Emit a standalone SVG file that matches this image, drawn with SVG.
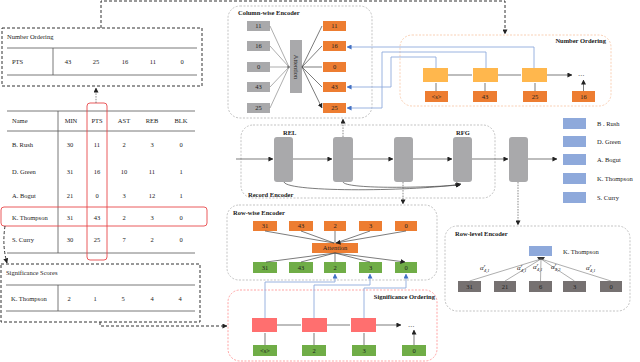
<svg xmlns="http://www.w3.org/2000/svg" width="640" height="362" viewBox="0 0 640 362">
<style>
text{font-family:"Liberation Serif","Times New Roman",serif;font-size:6.5px;fill:#222}
.c{text-anchor:middle}
.b{font-weight:bold;font-size:6.5px}
.tl{stroke:#555;stroke-width:0.8}
.blk{fill:none;stroke:#333;stroke-width:1;stroke-dasharray:3,2}
.gbox{fill:none;stroke:#aaa;stroke-width:0.7;stroke-dasharray:2,1.5}
.gray{fill:#A9A9AB}
.or{fill:#ED7D31}
.gr{fill:#70AD47}
.yl{fill:#FFB74D}
.rd{fill:#FF6F6F}
.bl{fill:#8EA9DB}
.dk{fill:#767171}
.ln{stroke:#777;stroke-width:0.6;fill:none}
.ar{stroke:#444;stroke-width:0.7;fill:none;marker-end:url(#ah)}
.bln{stroke:#8FAADC;stroke-width:0.9;fill:none}
.dash{stroke:#333;stroke-width:1;fill:none;stroke-dasharray:3,2;marker-end:url(#ah)}
.gdash{stroke:#555;stroke-width:0.7;fill:none;stroke-dasharray:1.5,1.2;marker-end:url(#ah)}
.al{font-size:7px;font-style:italic}
.sup{font-size:4.5px}
</style>
<defs>
<marker id="ah" viewBox="0 0 6 6" refX="5.5" refY="3" markerWidth="5" markerHeight="5" orient="auto" markerUnits="userSpaceOnUse"><path d="M0,0 L6,3 L0,6 z" fill="#222"/></marker>
<marker id="bah" viewBox="0 0 6 6" refX="5.5" refY="3" markerWidth="5" markerHeight="5" orient="auto" markerUnits="userSpaceOnUse"><path d="M0,0 L6,3 L0,6 z" fill="#4472C4"/></marker>
</defs>

<!-- Left: Number Ordering table -->
<g id="number-ordering-table">
<rect class="blk" x="2" y="28" width="200" height="58"/>
<text x="7" y="39">Number Ordering</text>
<line class="tl" x1="7" y1="48" x2="197" y2="48"/>
<line class="tl" x1="7" y1="75" x2="197" y2="75"/>
<line class="tl" x1="53" y1="48" x2="53" y2="75"/>
<text x="12" y="64">PTS</text>
<text class="c" x="68" y="64">43</text><text class="c" x="96" y="64">25</text><text class="c" x="125" y="64">16</text><text class="c" x="153" y="64">11</text><text class="c" x="182" y="64">0</text>
</g>

<!-- Main table -->
<g id="main-table">
<line class="tl" x1="7" y1="111" x2="195" y2="111"/>
<line class="tl" x1="7" y1="131" x2="195" y2="131"/>
<line class="tl" x1="7" y1="253" x2="195" y2="253"/>
<line class="tl" x1="58" y1="111" x2="58" y2="253"/>
<text x="12" y="123">Name</text>
<text class="c" x="71" y="123">MIN</text><text class="c" x="97" y="123">PTS</text><text class="c" x="124" y="123">AST</text><text class="c" x="152" y="123">REB</text><text class="c" x="181" y="123">BLK</text>
<text x="12" y="147">B. Rush</text>
<text class="c" x="70" y="147">30</text><text class="c" x="97" y="147">11</text><text class="c" x="124" y="147">2</text><text class="c" x="152" y="147">3</text><text class="c" x="181" y="147">0</text>
<text x="12" y="174">D. Green</text>
<text class="c" x="70" y="174">31</text><text class="c" x="97" y="174">16</text><text class="c" x="124" y="174">10</text><text class="c" x="152" y="174">11</text><text class="c" x="181" y="174">1</text>
<text x="12" y="198">A. Bogut</text>
<text class="c" x="70" y="198">21</text><text class="c" x="97" y="198">0</text><text class="c" x="124" y="198">3</text><text class="c" x="152" y="198">12</text><text class="c" x="181" y="198">1</text>
<text x="12" y="220">K. Thompson</text>
<text class="c" x="70" y="220">31</text><text class="c" x="97" y="220">43</text><text class="c" x="124" y="220">2</text><text class="c" x="152" y="220">3</text><text class="c" x="181" y="220">0</text>
<text x="12" y="242">S. Curry</text>
<text class="c" x="70" y="242">30</text><text class="c" x="97" y="242">25</text><text class="c" x="124" y="242">7</text><text class="c" x="152" y="242">2</text><text class="c" x="181" y="242">0</text>
<rect x="87" y="103" width="20" height="157" rx="3" fill="none" stroke="#E8474A" stroke-width="0.9"/>
<rect x="1" y="207" width="206" height="19" rx="3" fill="none" stroke="#E8474A" stroke-width="0.9"/>
</g>

<!-- Significance Scores -->
<g id="significance-scores">
<rect class="blk" x="1" y="264" width="199" height="58"/>
<text x="6" y="275">Significance Scores</text>
<line class="tl" x1="6" y1="285" x2="195" y2="285"/>
<line class="tl" x1="6" y1="311" x2="195" y2="311"/>
<line class="tl" x1="58" y1="285" x2="58" y2="311"/>
<text x="11" y="301">K. Thompson</text>
<text class="c" x="69" y="301">2</text><text class="c" x="95" y="301">1</text><text class="c" x="123" y="301">5</text><text class="c" x="152" y="301">4</text><text class="c" x="180" y="301">4</text>
</g>

<!-- Column-wise Encoder -->
<g id="column-wise-encoder">
<rect class="gbox" x="228" y="6" width="144" height="112" rx="12"/>
<text class="b" x="238" y="15">Column-wise Encoder</text>
<rect class="gray" x="247" y="21" width="23" height="10"/><text class="c" x="258.5" y="28">11</text>
<rect class="gray" x="247" y="41" width="23" height="10"/><text class="c" x="258.5" y="48">16</text>
<rect class="gray" x="247" y="62" width="23" height="10"/><text class="c" x="258.5" y="69">0</text>
<rect class="gray" x="247" y="82" width="23" height="10"/><text class="c" x="258.5" y="89">43</text>
<rect class="gray" x="247" y="103" width="23" height="10"/><text class="c" x="258.5" y="110">25</text>
<rect class="gray" x="290" y="40" width="12" height="53"/>
<text class="c" transform="translate(296,67) rotate(90)" x="0" y="2">Attention</text>
<rect class="or" x="323" y="21" width="23" height="10"/><text class="c" x="334.5" y="28">11</text>
<rect class="or" x="323" y="41" width="23" height="10"/><text class="c" x="334.5" y="48">16</text>
<rect class="or" x="323" y="62" width="23" height="10"/><text class="c" x="334.5" y="69">0</text>
<rect class="or" x="323" y="82" width="23" height="10"/><text class="c" x="334.5" y="89">43</text>
<rect class="or" x="323" y="103" width="23" height="10"/><text class="c" x="334.5" y="110">25</text>
<path class="ln" d="M270,26 L289,67 M270,46 L289,67 M270,67 L289,67 M270,87 L289,67 M270,108 L289,67"/>
<circle cx="288.5" cy="67" r="1.3" fill="#777"/>
<path class="ar" d="M302,67 L322,26 M302,67 L322,46 M302,67 L322,67 M302,67 L322,87 M302,67 L322,108"/>
</g>

<!-- Number Ordering (pointer) -->
<g id="number-ordering">
<rect x="400" y="35" width="211" height="71" rx="12" fill="none" stroke="#F8CBAD" stroke-width="0.9" stroke-dasharray="2,1.5"/>
<text class="b" x="606" y="43" text-anchor="end">Number Ordering</text>
<rect class="yl" x="423" y="68" width="25" height="14"/>
<rect class="yl" x="473" y="68" width="25" height="14"/>
<rect class="yl" x="522" y="68" width="25" height="14"/>
<text x="578" y="76">…</text>
<rect class="or" x="425" y="91" width="23" height="11"/><text class="c" x="436.5" y="98.5">&lt;s&gt;</text>
<rect class="or" x="473" y="91" width="24" height="11"/><text class="c" x="485" y="98.5">43</text>
<rect class="or" x="523" y="91" width="24" height="11"/><text class="c" x="535" y="98.5">25</text>
<rect class="or" x="572" y="91" width="23" height="11"/><text class="c" x="583.5" y="98.5">16</text>
<path class="ar" d="M448,75 L472,75 M498,75 L521,75 M547,75 L572,75"/>
<path class="ar" d="M436,91 L436,83 M485,91 L485,83 M535,91 L535,83 M583.5,91 L583.5,80"/>
</g>

<!-- Record Encoder -->
<g id="record-encoder">
<rect class="gbox" x="241" y="125" width="254" height="73" rx="12"/>
<text class="b" x="248" y="197">Record Encoder</text>
<text class="b" x="283" y="135">REL</text>
<text class="b" x="456" y="135">RFG</text>
<rect class="gray" x="274" y="137" width="19" height="45" rx="3"/>
<rect class="gray" x="333" y="137" width="20" height="45" rx="3"/>
<rect class="gray" x="394" y="137" width="19" height="45" rx="3"/>
<rect class="gray" x="453" y="137" width="19" height="45" rx="3"/>
</g>
<g id="record-cell-5">
<rect class="gray" x="509" y="137" width="19" height="45" rx="3"/>
</g>

<!-- Output list -->
<g id="output-list">
<rect class="bl" x="563" y="118" width="23" height="11"/><text x="597" y="126">B . Rush</text>
<rect class="bl" x="563" y="136" width="23" height="11"/><text x="597" y="144">D. Green</text>
<rect class="bl" x="563" y="154" width="23" height="11"/><text x="597" y="162">A. Bogut</text>
<rect class="bl" x="563" y="173" width="23" height="11"/><text x="597" y="181">K. Thompson</text>
<rect class="bl" x="563" y="192" width="23" height="11"/><text x="597" y="200">S. Curry</text>
</g>

<!-- Row-wise Encoder -->
<g id="row-wise-encoder">
<rect class="gbox" x="227" y="205" width="210" height="75" rx="12"/>
<text class="b" x="233" y="215">Row-wise Encoder</text>
<rect class="or" x="253" y="221" width="24" height="10"/><text class="c" x="265" y="228">31</text>
<rect class="or" x="289" y="221" width="24" height="10"/><text class="c" x="301" y="228">43</text>
<rect class="or" x="324" y="221" width="22" height="10"/><text class="c" x="335" y="228">2</text>
<rect class="or" x="359" y="221" width="23" height="10"/><text class="c" x="370.5" y="228">3</text>
<rect class="or" x="395" y="221" width="22" height="10"/><text class="c" x="406" y="228">0</text>
<rect class="or" x="312" y="243" width="46" height="10"/><text class="c" x="335" y="250.3">Attention</text>
<rect class="gr" x="253" y="262" width="24" height="11"/><text class="c" x="265" y="269.5">31</text>
<rect class="gr" x="289" y="262" width="24" height="11"/><text class="c" x="301" y="269.5">43</text>
<rect class="gr" x="324" y="262" width="22" height="11"/><text class="c" x="335" y="269.5">2</text>
<rect class="gr" x="359" y="262" width="23" height="11"/><text class="c" x="370.5" y="269.5">3</text>
<rect class="gr" x="395" y="262" width="22" height="11"/><text class="c" x="406" y="269.5">0</text>
<path class="ar" d="M265,231 L334,243 M301,231 L334,243 M335,231 L335,243 M370,231 L336,243 M406,231 L336,243"/>
<path class="ar" d="M335,253 L266,262 M335,253 L301,262 M335,253 L335,262 M335,253 L370,262 M335,253 L405,262"/>
</g>

<!-- Significance Ordering -->
<g id="significance-ordering">
<rect x="228" y="290" width="209" height="71" rx="12" fill="none" stroke="#FF9999" stroke-width="0.9" stroke-dasharray="2,1.5"/>
<text class="b" x="435" y="299" text-anchor="end">Significance Ordering</text>
<rect class="rd" x="252" y="318" width="25" height="14"/>
<rect class="rd" x="302" y="318" width="25" height="14"/>
<rect class="rd" x="351" y="318" width="25" height="14"/>
<text x="408" y="327">…</text>
<rect class="gr" x="253" y="345" width="24" height="11"/><text class="c" x="265" y="352.5">&lt;s&gt;</text>
<rect class="gr" x="302" y="345" width="24" height="11"/><text class="c" x="314" y="352.5">2</text>
<rect class="gr" x="352" y="345" width="24" height="11"/><text class="c" x="364" y="352.5">3</text>
<rect class="gr" x="402" y="345" width="24" height="11"/><text class="c" x="414" y="352.5">0</text>
<path class="ar" d="M277,325 L301,325 M327,325 L350,325 M376,325 L401,325"/>
<path class="ar" d="M265,345 L265,333 M314,345 L314,333 M364,345 L364,333 M414,345 L414,330"/>
</g>

<!-- Row-level Encoder -->
<g id="row-level-encoder">
<rect class="gbox" x="445" y="226" width="185" height="85" rx="12"/>
<text class="b" x="455" y="236">Row-level Encoder</text>
<rect class="bl" x="529" y="246" width="23" height="10"/>
<text x="563" y="254">K. Thompson</text>
<path d="M537,257 L545,257 L543,260 L539,260 z" fill="#333"/>
<rect class="dk" x="458" y="281" width="23" height="11"/><text class="c" x="469.5" y="288.5">31</text>
<rect class="dk" x="494" y="281" width="22" height="11"/><text class="c" x="505" y="288.5">21</text>
<rect class="dk" x="529" y="281" width="23" height="11"/><text class="c" x="540.5" y="288.5">6</text>
<rect class="dk" x="563" y="281" width="23" height="11"/><text class="c" x="574.5" y="288.5">3</text>
<rect class="dk" x="600" y="281" width="22" height="11"/><text class="c" x="611" y="288.5">0</text>
<path class="ln" d="M469.5,281 L541,259 M505,281 L541,259 M540.5,281 L541,259 M574.5,281 L541,259 M611,281 L541,259"/>
<text class="al" x="480" y="270">α<tspan class="sup" dy="-3">r</tspan><tspan class="sup" dx="-1.5" dy="5">4,1</tspan></text>
<text class="al" x="517" y="270">α<tspan class="sup" dy="-3">r</tspan><tspan class="sup" dx="-1.5" dy="5">4,1</tspan></text>
<text class="al" x="533" y="269">α<tspan class="sup" dy="-3">r</tspan><tspan class="sup" dx="-1.5" dy="5">4,1</tspan></text>
<text class="al" x="551" y="269">α<tspan class="sup" dy="-3">r</tspan><tspan class="sup" dx="-1.5" dy="5">4,3</tspan></text>
<text class="al" x="586" y="270">α<tspan class="sup" dy="-3">r</tspan><tspan class="sup" dx="-1.5" dy="5">4,1</tspan></text>
</g>

<!-- Connectors -->
<g id="connectors">
<path class="dash" d="M101,28 L101,1 L505,1 L505,34"/>
<path class="gdash" d="M96,103 L96,88"/>
<path class="dash" d="M5,226 Q2,246 7,263"/>
<path class="dash" d="M100,322 L100,326 L227,326"/>
<path class="ar" d="M236,159 L273,159"/>
<path class="ar" d="M293,159 L332,159"/>
<path class="ar" d="M353,159 L393,159"/>
<path class="ar" d="M413,159 L452,159"/>
<path class="ar" d="M472,159 L508,159"/>
<path class="ar" d="M528,159 L557,159"/>
<path class="ar" d="M284,182 C288,193 420,191 461,184"/>
<path class="ar" d="M343,182 C346,189 420,188 460,185"/>
<path class="gdash" d="M343,137 L343,119"/>
<path class="gdash" d="M403,182 L403,204"/>
<path class="gdash" d="M518,182 L518,225"/>
<path class="bln" marker-end="url(#bah)" d="M534,68 L534,47 L347,47"/>
<path class="bln" marker-end="url(#bah)" d="M486,68 L486,52 L382,52 L382,108 L347,108"/>
<path class="bln" marker-end="url(#bah)" d="M436,68 L436,57 L391,57 L391,87 L347,87"/>
<path class="bln" marker-end="url(#bah)" d="M265,318 L265,282 L335,282 L335,274"/>
<path class="bln" marker-end="url(#bah)" d="M314,318 L314,285 L370,285 L370,274"/>
<path class="bln" marker-end="url(#bah)" d="M364,318 L364,288 L406,288 L406,274"/>
</g>
</svg>
